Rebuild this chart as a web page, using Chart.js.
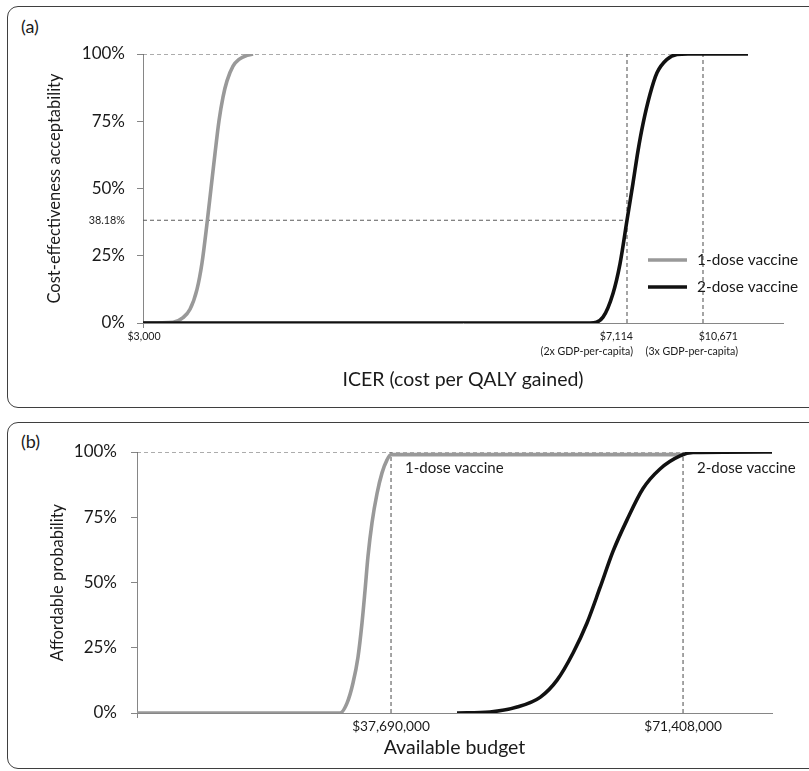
<!DOCTYPE html>
<html>
<head>
<meta charset="utf-8">
<title>Acceptability and affordability curves</title>
<script src="https://cdn.jsdelivr.net/npm/chart.js@4.4.1/dist/chart.umd.min.js"></script>
<style>
    html, body { margin: 0; padding: 0; background: #fff; width: 809px; height: 771px; overflow: hidden; }
    .panel { position: absolute; left: 7px; width: 900px; border: 1.6px solid #3f3f3f; border-radius: 11px; box-sizing: border-box; }
    .tag { position: absolute; left: 21px; font: 18px Lato, sans-serif; color: #1a1a1a; }
    canvas { position: absolute; left: 0; }
</style>
</head>
<body>
<div class="panel" style="top:6px;height:402px"></div>
<div class="panel" style="top:422px;height:347px"></div>
<div class="tag" style="top:15px">(a)</div>
<div class="tag" style="top:430px">(b)</div>
<canvas id="chart-a" style="top:0" width="809" height="405"></canvas>
<canvas id="chart-b" style="top:415px" width="809" height="356"></canvas>

<script>
/* ── (a) cost-effectiveness acceptability ──
   x = position along the ICER category axis (0 = $3,000), y = probability */
const icerPos1 = [0, 3.0, 4.0, 4.7, 5.4, 5.9, 6.4, 6.8, 7.2, 7.6, 8.0, 8.4, 9.0, 9.6, 10.4, 11.0];
const icerProb1 = [0, 0.003, 0.02, 0.051, 0.125, 0.223, 0.37, 0.5, 0.63, 0.752, 0.84, 0.90, 0.955, 0.98, 0.995, 1];
const icerPos2 = [0, 44.7, 46.0, 47.0, 47.7, 48.4, 49.0, 49.5, 50.0, 50.7, 51.4, 52.4, 53.4, 54.5, 60.5];
const icerProb2 = [0, 0, 0.022, 0.11, 0.22, 0.3818, 0.52, 0.64, 0.74, 0.85, 0.93, 0.98, 0.998, 1, 1];
const icerTickPos = [0, 48.4, 56.0];
const icerTickLabels = [['$3,000'], ['$7,114', '(2x GDP-per-capita)'], ['$10,671', '(3x GDP-per-capita)']];
const acceptAt2xGdp = 0.3818;
const icerProbTicks = [0, 0.25, acceptAt2xGdp, 0.5, 0.75, 1];

/* ── (b) affordability ── x = available budget (US$ millions) */
const budget1 = [8.36, 31.8, 32.61, 33.3, 33.88, 34.34, 34.69, 35.03, 35.5, 36.07, 36.65, 37.23, 37.69, 71.408];
const afford1 = [0, 0, 0.038, 0.115, 0.215, 0.345, 0.47, 0.60, 0.73, 0.84, 0.92, 0.97, 0.99, 0.99];
const budget2 = [45.31, 49.12, 52.24, 54.9, 56.86, 58.71, 60.32, 61.82, 63.33, 64.94, 66.79, 68.75, 71.06, 72.56, 81.68];
const afford2 = [0, 0.004, 0.023, 0.06, 0.126, 0.23, 0.345, 0.48, 0.62, 0.74, 0.86, 0.935, 0.985, 0.998, 1];
const budgetTicks = [37.69, 71.408];
const budgetTickLabels = ['$37,690,000', '$71,408,000'];
const affordProbTicks = [0, 0.25, 0.5, 0.75, 1];

const FONT = 'Lato, sans-serif';
const GREY = '#999999', BLACK = '#111111', AXIS = '#868686', INK = '#1a1a1a';

const pts = (xs, ys) => xs.map((x, i) => ({ x, y: ys[i] }));
const pct = v => (Math.round(v * 10000) / 100) + '%';

function curve(label, data, color) {
    return { label, data, borderColor: color, borderWidth: 3.6, pointRadius: 0,
             cubicInterpolationMode: 'monotone', fill: false };
}
function guide(data) {
    return { label: '', data, borderColor: '#5b5b5b', borderWidth: 1.1, borderDash: [4, 3],
             pointRadius: 0, tension: 0, fill: false };
}

// text notes + optional in-plot legend
const notes = {
    id: 'notes',
    afterDatasetsDraw(chart, args, opts) {
        const { ctx, chartArea: area, scales: { x, y } } = chart;
        ctx.save();
        ctx.fillStyle = INK;
        ctx.textBaseline = 'middle';
        (opts.texts || []).forEach(t => {
            ctx.font = t.font;
            ctx.textAlign = t.align;
            const px = x.getPixelForValue(t.xv) + t.dx;
            const py = y.getPixelForValue(t.yv) + t.dy;
            t.lines.forEach((line, i) => ctx.fillText(line, px, py + i * 15));
        });
        (opts.legend || []).forEach((item, i) => {
            const ly = area.bottom - 63 + i * 27;
            const lx = area.right - 135;
            ctx.strokeStyle = item.color;
            ctx.lineWidth = 3.6;
            ctx.beginPath(); ctx.moveTo(lx, ly); ctx.lineTo(lx + 39, ly); ctx.stroke();
            ctx.font = '15.4px ' + FONT;
            ctx.textAlign = 'left';
            ctx.fillText(item.label, lx + 49, ly);
        });
        ctx.restore();
    }
};

function yScale(ticks, width, titleText, titlePad, labelPad, smallValue) {
    return {
        min: 0, max: 1,
        afterBuildTicks: s => { s.ticks = ticks.map(v => ({ value: v })); },
        afterFit: s => { s.width = width; },
        border: { color: AXIS, width: 1 },
        grid: { drawOnChartArea: false, tickLength: 6,
                color: c => (c.tick && c.tick.value === smallValue) ? 'rgba(0,0,0,0)' : AXIS },
        ticks: { padding: labelPad, color: INK, callback: v => pct(v),
                 font: c => ({ family: FONT, size: (c.tick && c.tick.value === smallValue) ? 10.8 : 17 }) },
        title: { display: true, text: titleText, color: INK, font: { family: FONT, size: 16.5 },
                 padding: { top: titlePad, bottom: 0 } }
    };
}

function xScale(min, max, height, titleText, titlePad) {
    return {
        type: 'linear', min, max,
        afterBuildTicks: s => { s.ticks = [{ value: min }]; },
        afterFit: s => { s.height = height; },
        border: { color: AXIS, width: 1 },
        grid: { drawOnChartArea: false, tickLength: 5, color: AXIS },
        ticks: { display: false },
        title: { display: true, text: titleText, color: INK, font: { family: FONT, size: 19.5 },
                 padding: { top: 0, bottom: titlePad } }
    };
}

const commonOpts = { responsive: false, animation: false, events: [] };

// (a)
new Chart(document.getElementById('chart-a'), {
    type: 'line',
    data: {
        datasets: [
            curve('2-dose vaccine', pts(icerPos2, icerProb2), BLACK),
            curve('1-dose vaccine', pts(icerPos1, icerProb1), GREY),
            guide([{ x: 0, y: 1 }, { x: icerTickPos[2], y: 1 }]),
            guide([{ x: 0, y: acceptAt2xGdp }, { x: icerTickPos[1], y: acceptAt2xGdp }]),
            guide([{ x: icerTickPos[1], y: 0 }, { x: icerTickPos[1], y: 1 }]),
            guide([{ x: icerTickPos[2], y: 0 }, { x: icerTickPos[2], y: 1 }])
        ]
    },
    options: {
        ...commonOpts,
        layout: { padding: { top: 54, right: 26, left: 0, bottom: 0 } },
        scales: {
            x: xScale(0, 64, 82, 'ICER (cost per QALY gained)', 13.3),
            y: yScale(icerProbTicks, 143, 'Cost-effectiveness acceptability', 45.1, 12, acceptAt2xGdp)
        },
        plugins: {
            legend: { display: false },
            tooltip: { enabled: false },
            notes: {
                texts: [
                    { xv: icerTickPos[0], yv: 0, dx: 1, dy: 14, align: 'center', font: '10.6px ' + FONT, lines: icerTickLabels[0] },
                    { xv: icerTickPos[1], yv: 0, dx: 6, dy: 14, align: 'right', font: '10.6px ' + FONT, lines: icerTickLabels[1] },
                    { xv: icerTickPos[2], yv: 0, dx: 35, dy: 14, align: 'right', font: '10.6px ' + FONT, lines: icerTickLabels[2] }
                ],
                legend: [
                    { label: '1-dose vaccine', color: GREY },
                    { label: '2-dose vaccine', color: BLACK }
                ]
            }
        }
    },
    plugins: [notes]
});

// (b)
new Chart(document.getElementById('chart-b'), {
    type: 'line',
    data: {
        datasets: [
            curve('2-dose vaccine', pts(budget2, afford2), BLACK),
            curve('1-dose vaccine', pts(budget1, afford1), GREY),
            guide([{ x: budget1[0], y: 1 }, { x: budgetTicks[1], y: 1 }]),
            guide([{ x: budgetTicks[0], y: 0 }, { x: budgetTicks[0], y: 1 }]),
            guide([{ x: budgetTicks[1], y: 0 }, { x: budgetTicks[1], y: 1 }])
        ]
    },
    options: {
        ...commonOpts,
        layout: { padding: { top: 37, right: 37, left: 0, bottom: 0 } },
        scales: {
            x: xScale(8.36, 81.68, 58, 'Available budget', 11.3),
            y: yScale(affordProbTicks, 137, 'Affordable probability', 48.1, 14, null)
        },
        plugins: {
            legend: { display: false },
            tooltip: { enabled: false },
            notes: {
                texts: [
                    { xv: budgetTicks[0], yv: 0, dx: 0, dy: 14, align: 'center', font: '13.7px ' + FONT, lines: [budgetTickLabels[0]] },
                    { xv: budgetTicks[1], yv: 0, dx: 0, dy: 14, align: 'center', font: '13.7px ' + FONT, lines: [budgetTickLabels[1]] },
                    { xv: budgetTicks[0], yv: 1, dx: 14, dy: 16, align: 'left', font: '15px ' + FONT, lines: ['1-dose vaccine'] },
                    { xv: budgetTicks[1], yv: 1, dx: 14, dy: 16, align: 'left', font: '15px ' + FONT, lines: ['2-dose vaccine'] }
                ]
            }
        }
    },
    plugins: [notes]
});
</script>
</body>
</html>
